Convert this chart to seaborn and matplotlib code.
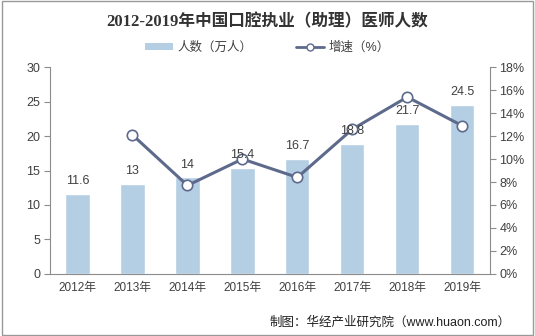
import matplotlib
matplotlib.use("Agg")
import matplotlib.pyplot as plt
import seaborn as sns
import numpy as np
import pandas as pd
from matplotlib.lines import Line2D
from matplotlib.patches import Patch, Rectangle

years = ["2012年", "2013年", "2014年", "2015年", "2016年", "2017年", "2018年", "2019年"]
people = [11.6, 13, 14, 15.4, 16.7, 18.8, 21.7, 24.5]
growth_years = ["2013年", "2014年", "2015年", "2016年", "2017年", "2018年", "2019年"]
growth = [12.1, 7.7, 10.0, 8.4, 12.6, 15.4, 12.9]
left_ticks = [0, 5, 10, 15, 20, 25, 30]
right_ticks = [0, 2, 4, 6, 8, 10, 12, 14, 16, 18]

sns.set_theme(style="white")
plt.rcParams['font.family'] = ['Liberation Sans', 'Noto Sans CJK SC', 'DejaVu Sans']

bar_color = "#b4cfe3"
line_color = "#5e6a8c"
axis_color = "#8c8c8c"
text_color = "#404040"

fig = plt.figure(figsize=(5.35, 3.36), dpi=100)
ax = fig.add_axes([0.0935, 0.185, 0.822, 0.615])

df = pd.DataFrame({"year": years, "people": people})
sns.barplot(data=df, x="year", y="people", color=bar_color, width=0.44,
            saturation=1, ax=ax)
ax.set_ylim(0, 30)
ax.set_yticks(left_ticks)
ax.set_xlim(-0.5, len(years) - 0.5)
ax.set_xlabel("")
ax.set_ylabel("")

ax2 = ax.twinx()
pos = {y: i for i, y in enumerate(years)}
gdf = pd.DataFrame({"x": [pos[y] for y in growth_years], "g": growth})
sns.lineplot(data=gdf, x="x", y="g", color=line_color, linewidth=2.2,
             marker="o", markersize=7.5, markerfacecolor="white",
             markeredgecolor=line_color, markeredgewidth=1.2, ax=ax2)
ax2.set_ylim(0, 18)
ax2.set_yticks(right_ticks)
ax2.set_yticklabels([f"{t}%" for t in right_ticks])
ax2.set_xlim(-0.5, len(years) - 0.5)
ax2.set_ylabel("")
ax2.set_xlabel("")

# bar value labels drawn above the line
for i, v in enumerate(people):
    ax2.text(i, v + 1.0, f"{v:g}", ha="center", va="bottom", fontsize=9,
             color=text_color, transform=ax.transData, zorder=10)

for a in (ax, ax2):
    a.spines["top"].set_visible(False)
    for s in ["left", "right", "bottom"]:
        a.spines[s].set_color(axis_color)
        a.spines[s].set_linewidth(0.8)
    a.tick_params(axis="y", labelsize=9, colors=text_color, length=4,
                  width=0.8, color=axis_color, pad=3)
ax.spines["right"].set_visible(False)
ax2.spines["left"].set_visible(False)
ax2.spines["bottom"].set_visible(False)

ax.set_xticks(np.arange(len(years)))
ax.set_xticklabels(years)
ax.tick_params(axis="x", labelsize=8.5, colors=text_color, length=0, pad=6)
ax.set_xticks(np.arange(-0.5, len(years), 1), minor=True)
ax.tick_params(axis="x", which="minor", length=4, width=0.8, color=axis_color)

fig.text(0.5, 0.935, "2012-2019年中国口腔执业（助理）医师人数", ha="center",
         va="center", fontsize=12, fontweight="bold", color="#333333",
         family=['Liberation Serif', 'Noto Sans CJK SC'])

handles = [Patch(facecolor=bar_color, edgecolor="none"),
           Line2D([0], [0], color=line_color, linewidth=2, marker="o",
                  markersize=5, markerfacecolor="white",
                  markeredgecolor=line_color)]
fig.legend(handles, ["人数（万人）", "增速（%）"], loc="center",
           bbox_to_anchor=(0.5, 0.857), ncol=2, frameon=False, fontsize=9,
           handlelength=2.2, handleheight=0.5, columnspacing=3.5,
           handletextpad=0.4, labelcolor=text_color)

fig.text(0.955, 0.04, "制图：华经产业研究院（www.huaon.com）", ha="right",
         va="center", fontsize=9, color="#222222")

fig.patches.append(Rectangle((0.004, 0.004), 0.992, 0.992, transform=fig.transFigure,
                             fill=False, edgecolor="#999999", linewidth=1))

fig.savefig("out.png", dpi=100)
